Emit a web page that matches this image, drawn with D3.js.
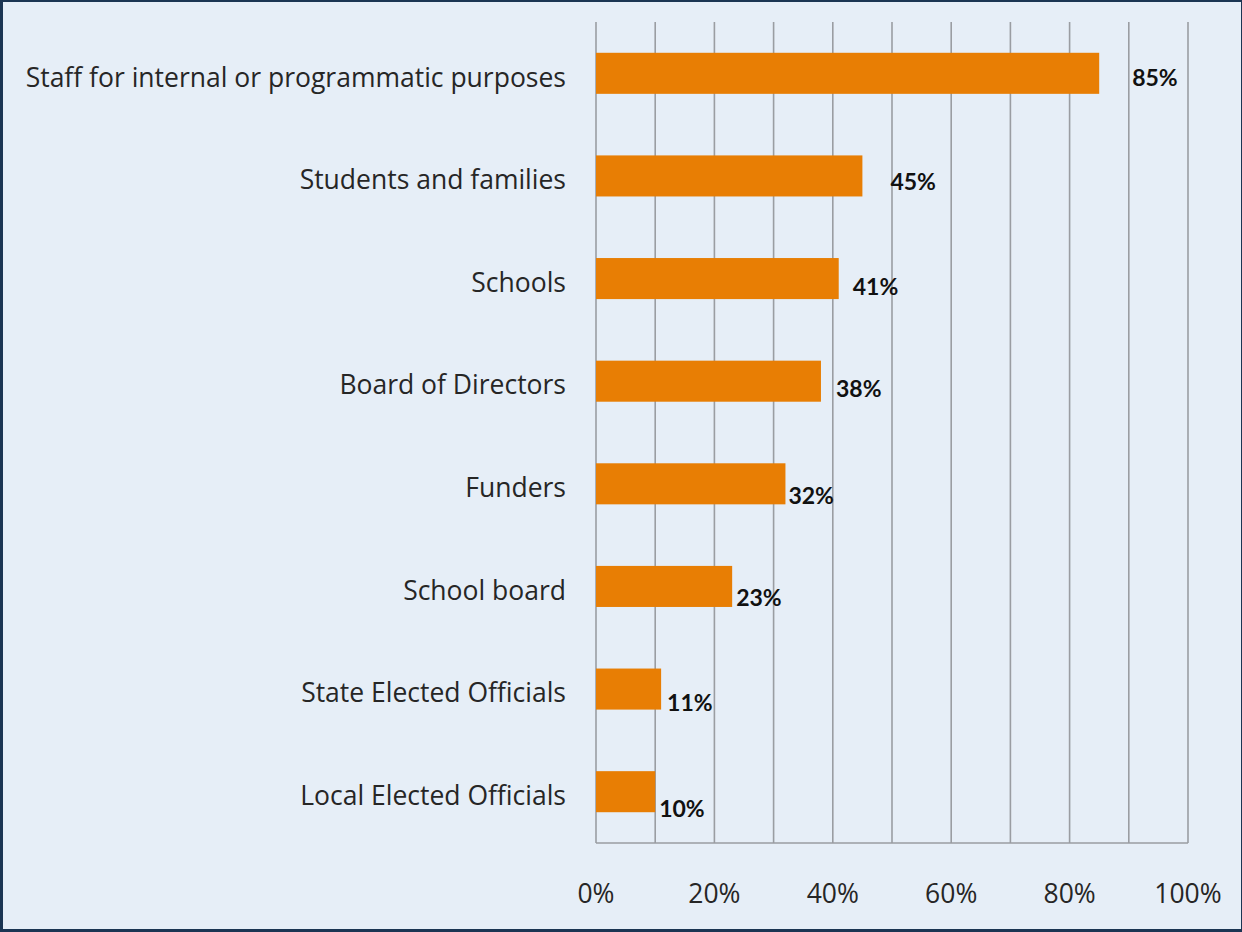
<!DOCTYPE html>
<html>
<head>
<meta charset="utf-8">
<script src="https://cdn.jsdelivr.net/npm/d3@7"></script>
<style>
  html, body { margin: 0; padding: 0; background: #1b3553; }
  svg { display: block; }
</style>
</head>
<body>
<div id="chart"></div>
<script>
(() => {
const categories = [
    'Staff for internal or programmatic purposes',
    'Students and families',
    'Schools',
    'Board of Directors',
    'Funders',
    'School board',
    'State Elected Officials',
    'Local Elected Officials'
];
const values = [85, 45, 41, 38, 32, 23, 11, 10];
const tickValues = [0, 20, 40, 60, 80, 100];
const gridValues = d3.range(0, 101, 10);

// data labels in the original were dragged around by hand
const labelNudge = [[33, 5], [28, 6], [14, 8], [15, 8], [3, 12], [4, 12], [6, 14], [4, 17]];

const width = 1242;
const height = 932;
const margin = { top: 22, right: 54, bottom: 89, left: 596 };

const svg = d3.select('#chart')
    .append('svg')
    .attr('width', width)
    .attr('height', height);

// frame
svg.append('rect')
    .attr('x', 3).attr('y', 2)
    .attr('width', width - 4).attr('height', height - 5)
    .attr('fill', '#e6eef7');

const x = d3.scaleLinear().domain([0, 100]).range([margin.left, width - margin.right]);

const y = d3.scaleBand()
    .domain(categories)
    .range([margin.top, height - margin.bottom])
    .paddingInner(0.6)
    .paddingOuter(0.3);

const plotBottom = height - margin.bottom;

// gridlines
svg.append('g')
    .selectAll('line')
    .data(gridValues)
    .enter()
    .append('line')
    .attr('x1', d => x(d)).attr('x2', d => x(d))
    .attr('y1', margin.top).attr('y2', plotBottom)
    .attr('stroke', '#9a9da2')
    .attr('stroke-width', 1.6);

svg.append('line')
    .attr('x1', x(0)).attr('x2', x(100))
    .attr('y1', plotBottom).attr('y2', plotBottom)
    .attr('stroke', '#9a9da2')
    .attr('stroke-width', 1.6);

// bars
svg.append('g')
    .selectAll('rect')
    .data(categories)
    .enter()
    .append('rect')
    .attr('x', x(0))
    .attr('y', d => y(d))
    .attr('width', (d, i) => x(values[i]) - x(0))
    .attr('height', y.bandwidth())
    .attr('fill', '#e87e04');

// category labels
svg.append('g')
    .selectAll('text')
    .data(categories)
    .enter()
    .append('text')
    .attr('x', 566)
    .attr('y', d => y(d) + y.bandwidth() / 2 + 4)
    .attr('dy', '0.35em')
    .attr('text-anchor', 'end')
    .attr('fill', '#262626')
    .style('font-family', '"Open Sans", sans-serif')
    .style('font-size', '26.5px')
    .text(d => d);

// value labels
svg.append('g')
    .selectAll('text')
    .data(categories)
    .enter()
    .append('text')
    .attr('x', (d, i) => x(values[i]) + labelNudge[i][0])
    .attr('y', (d, i) => y(d) + y.bandwidth() / 2 + labelNudge[i][1])
    .attr('dy', '0.35em')
    .attr('fill', '#111')
    .style('font-family', 'Lato, sans-serif')
    .style('font-weight', 'bold')
    .style('font-size', '23px')
    .text((d, i) => values[i] + '%');

// x axis labels
svg.append('g')
    .selectAll('text')
    .data(tickValues)
    .enter()
    .append('text')
    .attr('x', d => x(d))
    .attr('y', 894)
    .attr('dy', '0.35em')
    .attr('text-anchor', 'middle')
    .attr('fill', '#262626')
    .style('font-family', '"Open Sans", sans-serif')
    .style('font-size', '26.5px')
    .text(d => d + '%');
})()
</script>
</body>
</html>
